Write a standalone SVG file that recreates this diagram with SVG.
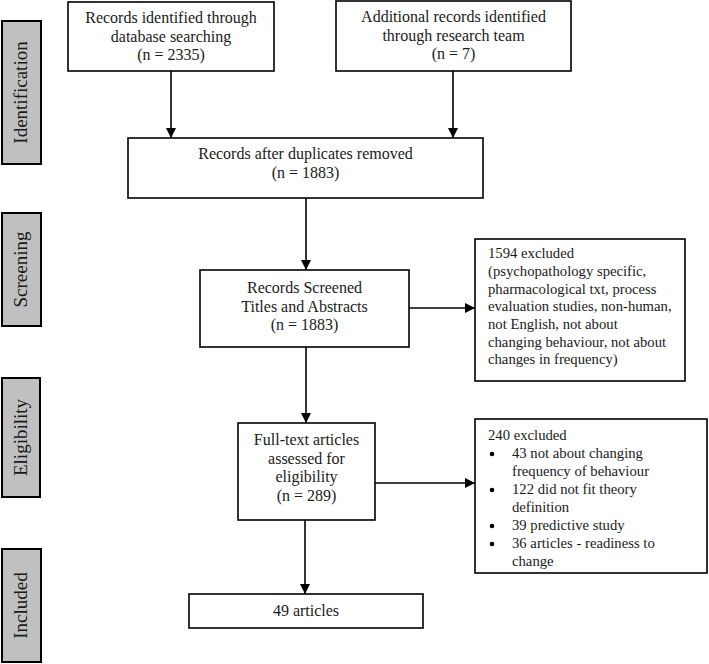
<svg xmlns="http://www.w3.org/2000/svg" width="709" height="664" viewBox="0 0 709 664">
<defs>
<style>
.box{fill:#fff;stroke:#000;stroke-width:1.6}
.side{fill:#c0c0c0;stroke:#000;stroke-width:2}
.t{font-family:"Liberation Serif","Times New Roman",serif;font-size:16px;fill:#1a1a1a}
.c{text-anchor:middle}
.s{font-family:"Liberation Serif","Times New Roman",serif;font-size:14.7px;fill:#1a1a1a}
.lab{font-family:"Liberation Serif","Times New Roman",serif;font-size:19px;fill:#1a1a1a;text-anchor:middle}
.ln{stroke:#000;stroke-width:1.6;fill:none}
</style>
<marker id="ah" viewBox="0 0 10 10" refX="10" refY="5" markerWidth="10" markerHeight="10" markerUnits="userSpaceOnUse" orient="auto">
<path d="M0,0 L10,5 L0,10 Z" fill="#000"/>
</marker>
</defs>
<rect width="709" height="664" fill="#fff"/>

<g id="phase-identification">
<rect class="side" x="2" y="21" width="39" height="143"/>
<text class="lab" transform="translate(27,92.5) rotate(-90)">Identification</text>
</g>
<g id="phase-screening">
<rect class="side" x="2" y="213" width="39" height="113"/>
<text class="lab" transform="translate(27,269.5) rotate(-90)">Screening</text>
</g>
<g id="phase-eligibility">
<rect class="side" x="2" y="378" width="38" height="119"/>
<text class="lab" transform="translate(27,437.5) rotate(-90)">Eligibility</text>
</g>
<g id="phase-included">
<rect class="side" x="2" y="549" width="39" height="113"/>
<text class="lab" transform="translate(27,605.5) rotate(-90)">Included</text>
</g>

<g id="connectors">
<line class="ln" x1="171" y1="71" x2="171" y2="138" marker-end="url(#ah)"/>
<line class="ln" x1="453" y1="71" x2="453" y2="138" marker-end="url(#ah)"/>
<line class="ln" x1="306" y1="198" x2="306" y2="270" marker-end="url(#ah)"/>
<line class="ln" x1="409" y1="308" x2="475" y2="308" marker-end="url(#ah)"/>
<line class="ln" x1="306" y1="347" x2="306" y2="423" marker-end="url(#ah)"/>
<line class="ln" x1="375" y1="483" x2="475" y2="483" marker-end="url(#ah)"/>
<line class="ln" x1="305" y1="520" x2="305" y2="594" marker-end="url(#ah)"/>
</g>

<g id="n-database">
<rect class="box" x="68" y="2" width="206" height="69"/>
<text class="t c" x="171" y="23">Records identified through</text>
<text class="t c" x="171" y="41.5">database searching</text>
<text class="t c" x="171" y="60">(n = 2335)</text>
</g>
<g id="n-additional">
<rect class="box" x="336" y="1" width="235" height="70"/>
<text class="t c" x="453.5" y="22">Additional records identified</text>
<text class="t c" x="453.5" y="40.5">through research team</text>
<text class="t c" x="453.5" y="59">(n = 7)</text>
</g>
<g id="n-duplicates">
<rect class="box" x="128" y="138" width="355" height="60"/>
<text class="t c" x="305.5" y="159">Records after duplicates removed</text>
<text class="t c" x="305.5" y="177.5">(n = 1883)</text>
</g>
<g id="n-screened">
<rect class="box" x="200" y="270" width="209" height="77"/>
<text class="t c" x="304.5" y="293">Records Screened</text>
<text class="t c" x="304.5" y="311.5">Titles and Abstracts</text>
<text class="t c" x="304.5" y="330">(n = 1883)</text>
</g>
<g id="n-excluded1">
<rect class="box" x="475" y="239" width="210" height="142"/>
<text class="s" x="488" y="258.3">1594 excluded</text>
<text class="s" x="488" y="276">(psychopathology specific,</text>
<text class="s" x="488" y="293.7">pharmacological txt, process</text>
<text class="s" x="488" y="311.4">evaluation studies, non-human,</text>
<text class="s" x="488" y="329">not English, not about</text>
<text class="s" x="488" y="346.7">changing behaviour, not about</text>
<text class="s" x="488" y="364.4">changes in frequency)</text>
</g>
<g id="n-fulltext">
<rect class="box" x="238" y="423" width="137" height="97"/>
<text class="t c" x="306.5" y="445">Full-text articles</text>
<text class="t c" x="306.5" y="463.5">assessed for</text>
<text class="t c" x="306.5" y="482">eligibility</text>
<text class="t c" x="306.5" y="500.5">(n = 289)</text>
</g>
<g id="n-excluded2">
<rect class="box" x="475" y="419" width="232" height="154"/>
<text class="s" x="488" y="440">240 excluded</text>
<circle cx="492" cy="454" r="2.3" fill="#000"/>
<text class="s" x="512" y="458">43 not about changing</text>
<text class="s" x="512" y="476">frequency of behaviour</text>
<circle cx="492" cy="490" r="2.3" fill="#000"/>
<text class="s" x="512" y="494">122 did not fit theory</text>
<text class="s" x="512" y="512">definition</text>
<circle cx="492" cy="526" r="2.3" fill="#000"/>
<text class="s" x="512" y="530">39 predictive study</text>
<circle cx="492" cy="544" r="2.3" fill="#000"/>
<text class="s" x="512" y="548">36 articles - readiness to</text>
<text class="s" x="512" y="566">change</text>
</g>
<g id="n-included">
<rect class="box" x="189" y="594" width="234" height="34"/>
<text class="t c" x="306" y="615.5">49 articles</text>
</g>
</svg>
